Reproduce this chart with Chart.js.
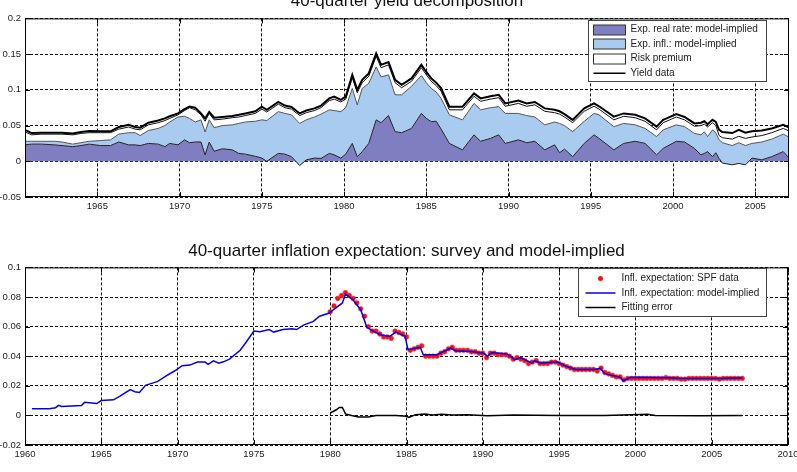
<!DOCTYPE html>
<html>
<head>
<meta charset="utf-8">
<script src="https://cdn.jsdelivr.net/npm/chart.js@4.4.1/dist/chart.umd.min.js"></script>
<style>
  html, body { margin: 0; padding: 0; background: #fff; overflow: hidden; }
  #wrap { position: relative; width: 797px; height: 472px; overflow: hidden; }
  #c1 { position: absolute; left: 0; top: -20px; }
  #c2 { position: absolute; left: 0; top: 230px; }
</style>
</head>
<body>
<div id="wrap">
  <canvas id="c1" width="797" height="250"></canvas>
  <canvas id="c2" width="797" height="242"></canvas>
</div>
<script>
// ---- top panel: 40-quarter yield decomposition ----
const yieldDates = [1960.6,1961.0,1961.6,1962.4,1962.85,1963.5,1964.0,1964.5,1965.2,1965.8,
  1966.3,1966.9,1967.3,1967.6,1968.1,1968.7,1969.1,1969.4,1969.9,1970.3,
  1970.6,1970.95,1971.3,1971.55,1971.8,1972.1,1972.6,1973.2,1973.6,1974.0,
  1974.6,1975.0,1975.3,1976.0,1976.4,1976.8,1977.3,1977.7,1978.2,1978.6,
  1979.1,1979.4,1979.8,1980.1,1980.5,1980.8,1981.1,1981.5,1981.95,1982.25,
  1982.7,1983.1,1983.5,1984.1,1984.7,1985.0,1985.3,1985.6,1985.9,1986.4,
  1987.2,1987.9,1988.3,1988.9,1989.4,1989.8,1990.6,1991.1,1991.6,1992.2,
  1992.8,1993.1,1993.4,1993.9,1994.6,1995.2,1995.5,1996.4,1997.0,1997.7,
  1998.3,1999.0,1999.4,2000.2,2000.7,2001.3,2001.7,2001.9,2002.1,2002.4,
  2002.6,2002.8,2003.0,2003.6,2004.0,2004.4,2004.8,2005.4,2006.0,2006.7,2007.0];

const realRate = [.023,.024,.024,.023,.022,.0205,.022,.024,.022,.022,
  .027,.023,.023,.022,.025,.024,.0205,.025,.023,.030,
  .026,.027,.027,.009,.027,.014,.0175,.016,.011,.010,
  .007,.0045,.000,.011,.010,.0065,-.006,.002,.0045,.004,
  .011,.009,.0045,.010,.025,.0065,.0135,.025,.058,.054,
  .064,.0415,.040,.046,.067,.060,.0555,.056,.045,.025,
  .016,.037,.028,.032,.037,.025,.030,.026,.028,.016,
  .023,.012,.017,.0065,.025,.037,.032,.016,.025,.028,
  .025,.009,.018,.028,.027,.018,.009,.011,.0135,.0065,
  .012,.004,-.0025,-.005,-.003,-.005,.0045,.002,.0065,.0135,.006];

const inflExp = [.005,.004,.004,.005,.005,.0035,.004,.004,.007,.008,
  .011,.017,.017,.014,.018,.022,.0295,.030,.039,.033,
  .034,.028,.031,.032,.031,.033,.0325,.035,.042,.045,
  .049,.0535,.057,.0585,.057,.0585,.059,.056,.0575,.062,
  .061,.062,.065,.065,.077,.0725,.0885,.084,.074,.064,
  .057,.0515,.053,.059,.053,.050,.0465,.041,.043,.040,
  .042,.044,.044,.043,.0395,.042,.037,.038,.034,.035,
  .032,.041,.033,.035,.031,.030,.033,.0325,.028,.023,
  .021,.0255,.026,.023,.0215,.021,.028,.0305,.021,.0375,
  .028,.026,.0285,.027,.029,.027,.0205,.025,.0245,.0245,.0285];

const riskPrem = [.013,.009,.010,.010,.011,.013,.013,.012,.011,.010,
  .007,.008,.005,.008,.008,.008,.007,.005,.003,.008,
  .015,.017,.007,.015,.009,.011,.009,.010,.009,.009,
  .011,.015,.012,.0105,.008,.008,.011,.010,.009,.009,
  .013,.016,.0135,.012,.015,.017,.008,.010,.015,.013,
  .014,.017,.010,.007,.011,.011,.010,.009,.010,.007,
  .014,.010,.012,.012,.0125,.010,.014,.013,.017,.019,
  .013,.013,.012,.0125,.014,.010,.008,.0095,.010,.010,
  .010,.0095,.010,.011,.0095,.010,.013,.0105,.0135,.010,
  .010,.006,.007,.009,.009,.010,.009,.009,.009,.008,.0085];

const yieldData = [.044,.0395,.040,.040,.040,.039,.041,.0425,.042,.042,
  .048,.051,.048,.047,.054,.057,.060,.063,.067,.073,
  .0765,.075,.067,.060,.069,.061,.062,.0635,.065,.067,
  .070,.0765,.072,.083,.078,.076,.067,.071,.074,.078,
  .088,.0905,.086,.0905,.121,.0999,.114,.123,.151,.135,
  .139,.114,.107,.116,.135,.125,.116,.110,.102,.0765,
  .0765,.095,.088,.091,.093,.081,.085,.081,.083,.074,
  .072,.070,.066,.058,.074,.081,.077,.0625,.067,.065,
  .060,.0485,.058,.066,.062,.053,.054,.056,.052,.058,
  .055,.044,.041,.0395,.044,.040,.042,.043,.046,.051,.048];

// ---- bottom panel: 40-quarter inflation expectation ----
const modelDates = [1960.45,1961.6,1962.0,1962.2,1962.4,1963.7,1963.9,1964.7,1965.0,1965.8,
  1966.2,1966.9,1967.2,1967.5,1967.9,1968.4,1968.7,1969.3,1969.8,1970.3,
  1970.8,1971.3,1971.8,1972.0,1972.35,1972.7,1973.0,1973.4,1974.1,1974.5,
  1975.0,1975.4,1976.0,1976.3,1976.9,1977.5,1977.8,1978.25,1978.9,1979.3,
  1979.9,1980.8,1981.0,1981.5,1982.0,1982.4,1982.85,1983.3,1983.9,1984.3,
  1984.9,1985.1,1985.9,1986.1,1987.0,1987.9,1988.2,1989.2,1990.05,1990.3,
  1990.6,1991.6,1992.1,1992.45,1993.2,1993.4,1993.8,1994.9,1995.5,1996.1,
  1997.3,1997.7,1998.0,1999.0,1999.2,1999.7,2002.0,2003.0,2005.5,2007.0];
const modelInfl = [.0045,.0045,.0052,.0068,.006,.0067,.0088,.008,.010,.0105,
  .0128,.0174,.016,.0155,.0203,.022,.023,.027,.030,.0336,
  .034,.036,.036,.0345,.0368,.0352,.0362,.038,.044,.0496,
  .057,.0566,.058,.0563,.058,.0585,.058,.061,.0635,.067,
  .069,.076,.082,.078,.0714,.0595,.0568,.0545,.0534,.0563,
  .0534,.0444,.046,.041,.041,.0455,.0437,.0432,.042,.040,
  .0425,.0414,.0376,.039,.0354,.0368,.0354,.036,.033,.031,
  .031,.0318,.0282,.0257,.0234,.0257,.0255,.025,.025,.0252];

// SPF survey, quarterly from 1980Q1
const spfStart = 1980;
const spfData = [
  .070,.074,.079,.081, .083,.081,.079,.076, .072,.067,.060,.057, .057,.055,.053,.053,
  .052,.057,.056,.055, .053,.044,.045,.046, .047,.040,.040,.040, .040,.042,.043,.045,
  .046,.044,.044,.044, .044,.043,.043,.042, .042,.039,.042,.042, .041,.041,.041,.040,
  .038,.039,.038,.037, .035,.036,.037,.035, .035,.035,.036,.036, .035,.034,.033,.032,
  .031,.031,.031,.031, .031,.031,.030,.032, .029,.028,.027,.026, .026,.024,.025,.025,
  .025,.025,.025,.025, .025,.025,.025,.025, .0255,.025,.025,.025, .0245,.0245,.025,.025,
  .025,.025,.025,.025, .025,.025,.0245,.025, .025,.025,.025,.025, .025];

const errDates = [1980.0,1980.4,1980.6,1980.8,1981.0,1981.4,1981.85,1982.5,1983.0,1984.3,
  1985.0,1985.15,1985.6,1986.2,1986.7,1987.3,1988.0,1989.0,1990.3,1992.0,
  1995.0,1998.0,2000.8,2001.3,2004.3,2007.0];
const fitErr = [.0016,.0038,.0054,.0054,.001,.000,-.001,-.001,.000,.000,
  -.0005,-.0013,.0005,.001,.0002,.0008,.0002,.0005,-.0003,.0002,
  .000,.000,.0008,.000,-.0003,.000];

const FONT = '"Liberation Sans", Arial, sans-serif';
Chart.defaults.font.family = FONT;
Chart.defaults.color = '#222';

const pts = (xs, ys) => xs.map((x, i) => ({x: x, y: ys[i]}));

// stacked tops for the areas
const topReal = realRate;
const topInfl = realRate.map((r, i) => r + inflExp[i]);
const topRisk = topInfl.map((b, i) => b + riskPrem[i]);

// axes box with inward ticks
const frame = {
  id: 'frame',
  afterDatasetsDraw(chart) {
    const {ctx, chartArea: a, scales} = chart;
    ctx.save();
    ctx.strokeStyle = '#000';
    ctx.lineWidth = 1;
    ctx.strokeRect(a.left + 0.5, a.top + 0.5, a.right - a.left - 1, a.bottom - a.top - 1);
    ctx.beginPath();
    scales.x.ticks.forEach(t => {
      const p = Math.round(scales.x.getPixelForValue(t.value)) + 0.5;
      ctx.moveTo(p, a.bottom); ctx.lineTo(p, a.bottom - 5);
      ctx.moveTo(p, a.top); ctx.lineTo(p, a.top + 5);
    });
    scales.y.ticks.forEach(t => {
      const p = Math.round(scales.y.getPixelForValue(t.value)) + 0.5;
      ctx.moveTo(a.left, p); ctx.lineTo(a.left + 5, p);
      ctx.moveTo(a.right, p); ctx.lineTo(a.right - 5, p);
    });
    ctx.stroke();
    ctx.restore();
  }
};

// matlab-like legend box in the top right corner
function boxLegend(id, items, g) {
  return {
    id: id,
    afterDraw(chart) {
      const {ctx, chartArea: a} = chart;
      const x0 = Math.round(a.right - g.right - g.w) + 0.5;
      const y0 = Math.round(a.top + g.top) + 0.5;
      ctx.save();
      ctx.fillStyle = '#fff';
      ctx.fillRect(x0, y0, g.w, g.h);
      ctx.strokeStyle = '#444';
      ctx.lineWidth = 1;
      ctx.strokeRect(x0, y0, g.w, g.h);
      ctx.font = '10px ' + FONT;
      ctx.textBaseline = 'middle';
      items.forEach((it, i) => {
        const ds = chart.data.datasets[it.ds];
        const cy = y0 + g.first + i * g.step;
        if (it.kind === 'box') {
          ctx.fillStyle = ds.backgroundColor;
          ctx.fillRect(x0 + g.sx0, Math.round(cy - 5), g.sx1 - g.sx0, 10);
          ctx.strokeStyle = '#333';
          ctx.strokeRect(x0 + g.sx0, Math.round(cy - 5), g.sx1 - g.sx0, 10);
        } else if (it.kind === 'line') {
          ctx.strokeStyle = ds.borderColor;
          ctx.lineWidth = 1.5;
          ctx.beginPath();
          ctx.moveTo(x0 + g.sx0, cy); ctx.lineTo(x0 + g.sx1, cy);
          ctx.stroke();
          ctx.lineWidth = 1;
        } else {
          ctx.fillStyle = ds.pointBackgroundColor;
          ctx.beginPath();
          ctx.arc(x0 + (g.sx0 + g.sx1) / 2, cy, 2.5, 0, Math.PI * 2);
          ctx.fill();
        }
        ctx.fillStyle = '#222';
        ctx.fillText(ds.label, x0 + g.tx, cy);
      });
      ctx.restore();
    }
  };
}

const yFmt = v => String(+v.toFixed(3));
const xFmt = v => String(Math.round(v));
const gridOpts = {color: '#111', lineWidth: 1, drawTicks: false};

function xScale(min, max, h) {
  return {
    type: 'linear', min: min, max: max,
    grid: gridOpts,
    border: {display: false, dash: [3, 2]},
    ticks: {stepSize: 5, includeBounds: false, autoSkip: false, maxRotation: 0,
            padding: 4, font: {size: 9.5}, color: '#222', callback: xFmt},
    afterFit(s) { s.height = h; s.paddingLeft = 0; s.paddingRight = 0; }
  };
}
function yScale(min, max, step) {
  return {
    min: min, max: max,
    grid: gridOpts,
    border: {display: false, dash: [3, 2]},
    ticks: {stepSize: step, padding: 4, font: {size: 9.5}, color: '#222', callback: yFmt},
    afterFit(s) { s.width = 25; s.paddingTop = 0; s.paddingBottom = 0; }
  };
}
const titleOpts = (text, top, bottom) => ({
  display: true, text: text, fullSize: false, color: '#111',
  font: {size: 17, weight: 'normal'}, padding: {top: top, bottom: bottom}
});

new Chart(document.getElementById('c1'), {
  type: 'line',
  data: {
    datasets: [
      {label: 'Yield data', data: pts(yieldDates, yieldData), borderColor: '#000',
       borderWidth: 2, pointRadius: 0, fill: false, order: 0},
      {label: 'Exp. real rate: model-implied', data: pts(yieldDates, topReal),
       borderColor: '#222', backgroundColor: '#7e7ec0', borderWidth: 1,
       pointRadius: 0, fill: 'origin', order: 3},
      {label: 'Exp. infl.: model-implied', data: pts(yieldDates, topInfl),
       borderColor: '#555', backgroundColor: '#a9cbf0', borderWidth: 1,
       pointRadius: 0, fill: '-1', order: 2},
      {label: 'Risk premium', data: pts(yieldDates, topRisk),
       borderColor: '#111', backgroundColor: '#ffffff', borderWidth: 1,
       pointRadius: 0, fill: '-1', order: 1}
    ]
  },
  options: {
    responsive: false,
    animation: false,
    layout: {padding: {left: 0, right: 8, top: 0, bottom: 0}},
    scales: {
      x: xScale(1960.6, 2007.05, 33),
      y: yScale(-0.05, 0.2, 0.05)
    },
    plugins: {
      legend: {display: false},
      tooltip: {enabled: false},
      filler: {drawTime: 'beforeDatasetsDraw'},
      title: titleOpts('40-quarter yield decomposition', 11, 7)
    }
  },
  plugins: [frame, boxLegend('legTop', [
    {ds: 1, kind: 'box'}, {ds: 2, kind: 'box'}, {ds: 3, kind: 'box'}, {ds: 0, kind: 'line'}
  ], {right: 23, top: 2, w: 178, h: 61, first: 9, step: 14.6, sx0: 5, sx1: 37, tx: 42})]
});

new Chart(document.getElementById('c2'), {
  type: 'line',
  data: {
    datasets: [
      {label: 'Infl. expectation: SPF data', data: spfData.map((v, i) => ({x: spfStart + i / 4, y: v})),
       showLine: false, pointRadius: 2.4, pointBackgroundColor: '#ff1010',
       pointBorderColor: '#ff3030', pointBorderWidth: 0.5, order: 3},
      {label: 'Infl. expectation: model-implied', data: pts(modelDates, modelInfl),
       borderColor: '#0000ee', borderWidth: 1.5, pointRadius: 0, fill: false, order: 2},
      {label: 'Fitting error', data: pts(errDates, fitErr),
       borderColor: '#000', borderWidth: 1.5, pointRadius: 0, fill: false, order: 1}
    ]
  },
  options: {
    responsive: false,
    animation: false,
    layout: {padding: {left: 0, right: 9, top: 0, bottom: 0}},
    scales: {
      x: xScale(1960, 2010, 27),
      y: yScale(-0.02, 0.1, 0.02)
    },
    plugins: {
      legend: {display: false},
      tooltip: {enabled: false},
      title: titleOpts('40-quarter inflation expectation: survey and model-implied', 11, 6)
    }
  },
  plugins: [frame, boxLegend('legBot', [
    {ds: 0, kind: 'dot'}, {ds: 1, kind: 'line'}, {ds: 2, kind: 'line'}
  ], {right: 22, top: 1, w: 188, h: 48, first: 10, step: 14.5, sx0: 7, sx1: 37, tx: 43})]
});
</script>
</body>
</html>
